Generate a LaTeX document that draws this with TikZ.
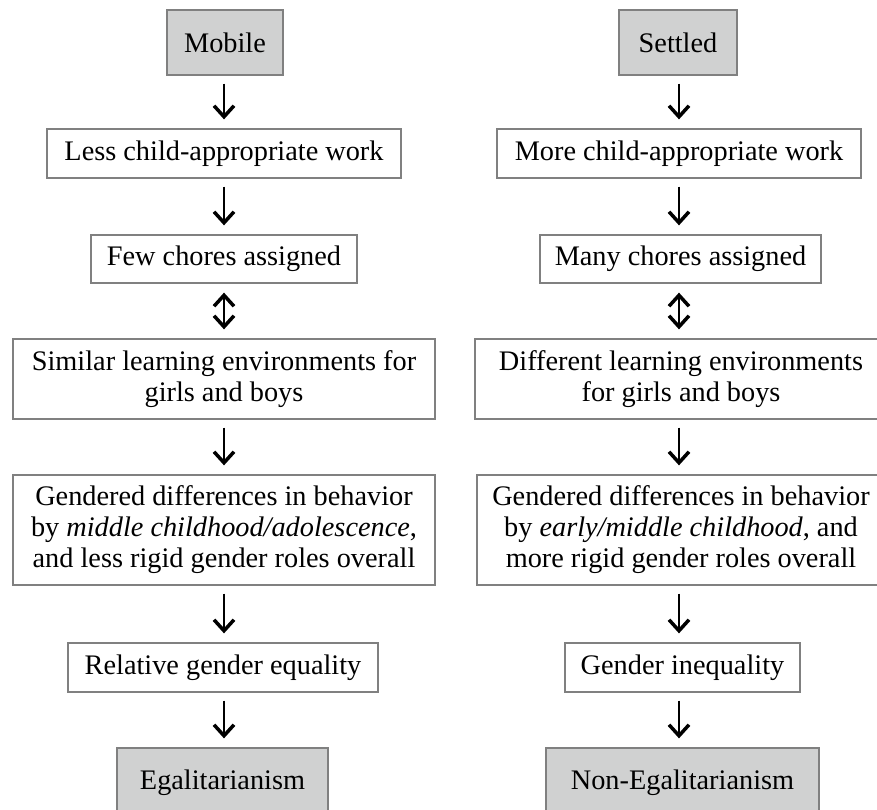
\documentclass[tikz,border=0pt]{standalone}
\usepackage{fontspec}
\setmainfont{Liberation Serif}
\usetikzlibrary{arrows.meta}
\definecolor{boxgray}{RGB}{208,209,209}
\definecolor{rimgray}{RGB}{128,128,128}
\tikzset{
  stage/.style={draw=rimgray, line width=1.3pt, fill=white, inner sep=0pt,
    align=center, font=\fontsize{28.3pt}{31pt}\selectfont},
  endstage/.style={stage, fill=boxgray},
  flow/.style={line width=1.8pt, shorten <=8pt, shorten >=9pt,
    -{Straight Barb[length=11pt,width=20pt,line width=3.5pt]}},
  twoway/.style={line width=1.8pt, shorten <=9pt, shorten >=9pt,
    {Straight Barb[length=11pt,width=20pt,line width=3.5pt]}-{Straight Barb[length=11pt,width=20pt,line width=3.5pt]}}
}

\begin{document}
\begin{tikzpicture}[x=1pt,y=-1pt]
\useasboundingbox (0,0) rectangle (877,810);
\clip (0,0) rectangle (877,810);

% mobile column
\node [endstage, minimum width=116pt, minimum height=65pt] (mob) at (225,42.5) {Mobile};
\node [stage, minimum width=354pt, minimum height=49pt] (lesswork) at (224,153.5) {Less child-appropriate work};
\node [stage, minimum width=266pt, minimum height=48pt] (fewch) at (224,259) {Few chores assigned};
\node [stage, minimum width=422pt, minimum height=80pt] (simlearn) at (224,379) {Similar learning environments for\\girls and boys};
\node [stage, minimum width=422pt, minimum height=110pt] (gendl) at (224,530) {Gendered differences in behavior\\by \emph{middle childhood/adolescence},\\and less rigid gender roles overall};
\node [stage, minimum width=310pt, minimum height=49pt] (releq) at (223,667.5) {Relative gender equality};
\node [endstage, minimum width=211pt, minimum height=70pt] (egal) at (222.5,783) {Egalitarianism};

% settled column
\node [endstage, minimum width=118pt, minimum height=65pt] (settled) at (678,42.5) {Settled};
\node [stage, minimum width=364pt, minimum height=49pt] (morework) at (679,153.5) {More child-appropriate work};
\node [stage, minimum width=281pt, minimum height=48pt] (manych) at (680.5,259) {Many chores assigned};
\node [stage, minimum width=412pt, minimum height=80pt] (difflearn) at (681,379) {Different learning environments\\for girls and boys};
\node [stage, minimum width=408pt, minimum height=110pt] (gendr) at (681,530) {Gendered differences in behavior\\by \emph{early/middle childhood}, and\\more rigid gender roles overall};
\node [stage, minimum width=235pt, minimum height=49pt] (ineq) at (682.5,667.5) {Gender inequality};
\node [endstage, minimum width=273pt, minimum height=70pt] (nonegal) at (682.5,783) {Non-Egalitarianism};

% arrows
\draw [flow] (mob.south -| 224,0) -- (lesswork.north -| 224,0);
\draw [flow] (lesswork.south -| 224,0) -- (fewch.north -| 224,0);
\draw [twoway] (fewch.south -| 224,0) -- (simlearn.north -| 224,0);
\draw [flow] (simlearn.south -| 224,0) -- (gendl.north -| 224,0);
\draw [flow] (gendl.south -| 224,0) -- (releq.north -| 224,0);
\draw [flow] (releq.south -| 224,0) -- (egal.north -| 224,0);

\draw [flow] (settled.south -| 679,0) -- (morework.north -| 679,0);
\draw [flow] (morework.south -| 679,0) -- (manych.north -| 679,0);
\draw [twoway] (manych.south -| 679,0) -- (difflearn.north -| 679,0);
\draw [flow] (difflearn.south -| 679,0) -- (gendr.north -| 679,0);
\draw [flow] (gendr.south -| 679,0) -- (ineq.north -| 679,0);
\draw [flow] (ineq.south -| 679,0) -- (nonegal.north -| 679,0);
\end{tikzpicture}
\end{document}
